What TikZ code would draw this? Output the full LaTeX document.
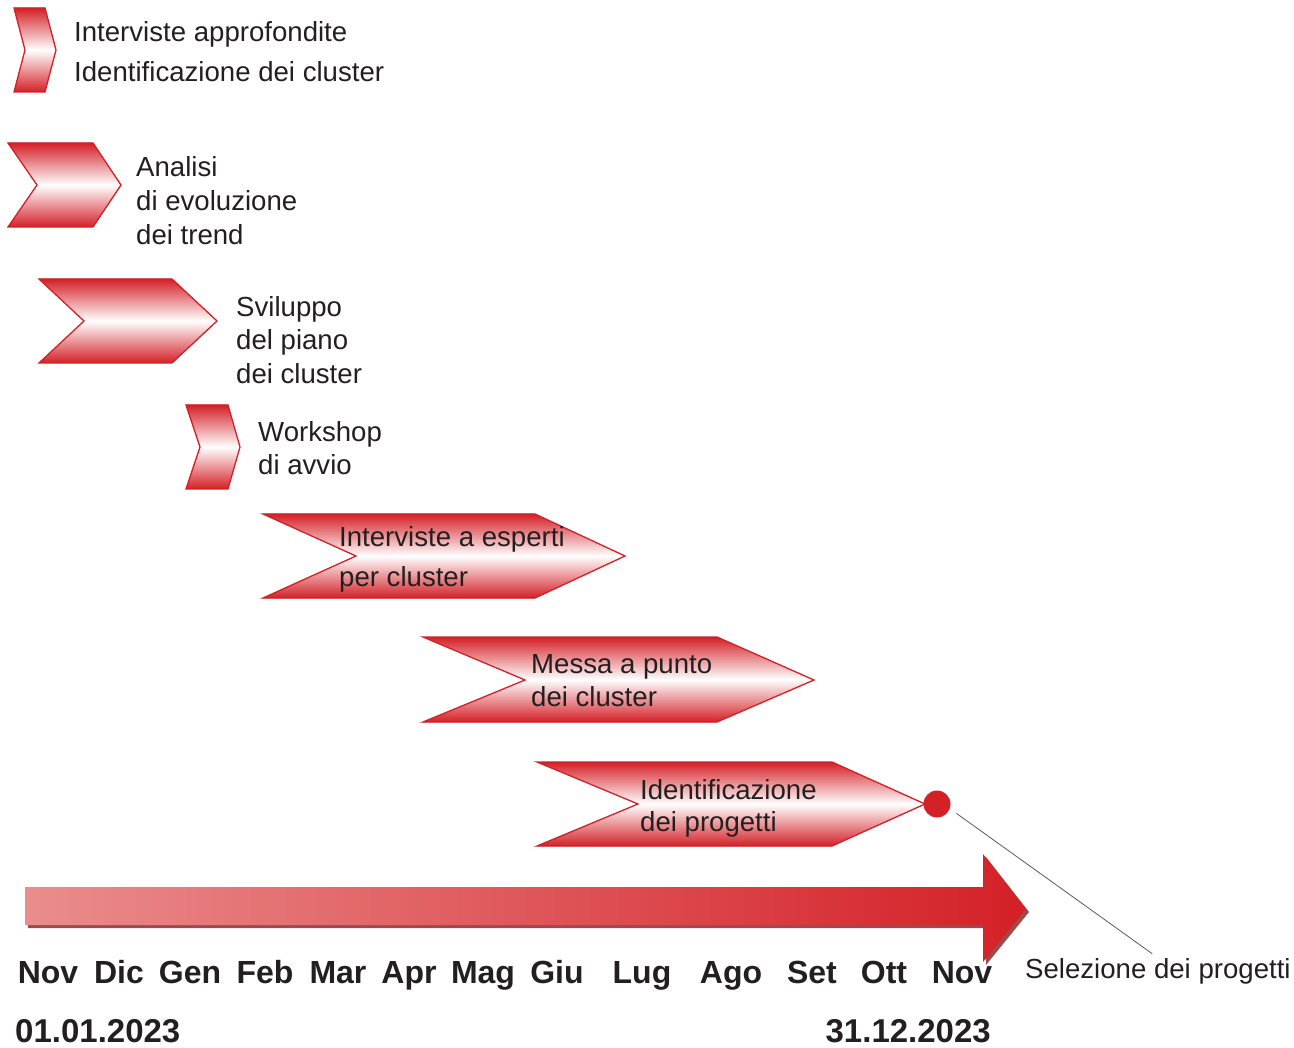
\documentclass[tikz,border=0pt]{standalone}
\usepackage{fontspec}
\setmainfont{Liberation Sans}
\usepackage{tikz}
\definecolor{rosso}{HTML}{D42027}
\definecolor{rosa}{HTML}{EA8D8D}
\definecolor{ombra}{HTML}{9E4A4A}
\definecolor{testo}{HTML}{231F20}

\tikzset{
fase/.style={draw=rosso, line width=1.3pt, top color=rosso, bottom color=rosso, middle color=white},
voce/.style={anchor=north west, align=left, inner sep=0pt, text=testo},
mese/.style={anchor=base, inner sep=0pt, text=testo, font=\bfseries\fontsize{32}{38}\selectfont},
data/.style={inner sep=0pt, text=testo, font=\bfseries\fontsize{33}{38}\selectfont},
}

\begin{document}
\begin{tikzpicture}[x=1pt,y=-1pt]
\useasboundingbox (0,0) rectangle (1294,1048);

\filldraw[fase] (14,8) -- (45,8) -- (56,50) -- (45,92) -- (14,92) -- (25,50) -- cycle;
\filldraw[fase] (8,143) -- (93,143) -- (121,185) -- (93,227) -- (8,227) -- (37,185) -- cycle;
\filldraw[fase] (39,279) -- (172,279) -- (217,321) -- (172,363) -- (39,363) -- (84,321) -- cycle;
\filldraw[fase] (186,405) -- (228,405) -- (240,447) -- (228,489) -- (186,489) -- (200,447) -- cycle;
\filldraw[fase] (263,514) -- (535,514) -- (625,556) -- (535,598) -- (263,598) -- (356,556) -- cycle;
\filldraw[fase] (423,637) -- (717,637) -- (814,680) -- (717,722) -- (423,722) -- (525,680) -- cycle;
\filldraw[fase] (537,762) -- (832,762) -- (925,804) -- (832,846) -- (537,846) -- (638,804) -- cycle;

\node (intapp) [voce, font=\fontsize{27.6}{40}\selectfont] at (74,21) {Interviste approfondite\\Identificazione dei cluster};
\node (analisi) [voce, font=\fontsize{27.6}{34}\selectfont] at (136,156) {Analisi\\di evoluzione\\dei trend};
\node (sviluppo) [voce, font=\fontsize{27.6}{33.5}\selectfont] at (236,296) {Sviluppo\\del piano\\dei cluster};
\node (workshop) [voce, font=\fontsize{27.6}{33.5}\selectfont] at (258,421) {Workshop\\di avvio};
\node (intesp) [voce, font=\fontsize{27.6}{40}\selectfont] at (339,526) {Interviste a esperti\\per cluster};
\node (messa) [voce, font=\fontsize{27.6}{33}\selectfont] at (531,654) {Messa a punto\\dei cluster};
\node (idprog) [voce, font=\fontsize{27.6}{32.5}\selectfont] at (640,779) {Identificazione\\dei progetti};

\fill[ombra, shift={(3,3)}] (25,887) -- (983,887) -- (983,854) -- (1026,909) -- (983,962) -- (983,925) -- (25,925) -- cycle;
\shade[left color=rosa, right color=rosso] (25,887) -- (983,887) -- (983,854) -- (1026,909) -- (983,962) -- (983,925) -- (25,925) -- cycle;

\node (dot) [circle, fill=rosso, minimum size=27pt, inner sep=0pt] at (937,804) {};
\node (sel) [anchor=base west, inner sep=0pt, text=testo, font=\fontsize{27.6}{32}\selectfont] at (1025,978) {Selezione dei progetti};
\draw[black!65, line width=0.8pt, shorten <=8pt, shorten >=7pt] (dot.-20) -- (sel.north);

\node (m1) [mese] at (48,983) {Nov};
\node (m2) [mese] at (119,983) {Dic};
\node (m3) [mese] at (190,983) {Gen};
\node (m4) [mese] at (265,983) {Feb};
\node (m5) [mese] at (338,983) {Mar};
\node (m6) [mese] at (409,983) {Apr};
\node (m7) [mese] at (483,983) {Mag};
\node (m8) [mese] at (557,983) {Giu};
\node (m9) [mese] at (642,983) {Lug};
\node (m10) [mese] at (731,983) {Ago};
\node (m11) [mese] at (812,983) {Set};
\node (m12) [mese] at (884,983) {Ott};
\node (m13) [mese] at (962,983) {Nov};

\node (inizio) [data, anchor=base west] at (15,1042) {01.01.2023};
\node (fine) [data, anchor=base east] at (991,1042) {31.12.2023};
\end{tikzpicture}
\end{document}
